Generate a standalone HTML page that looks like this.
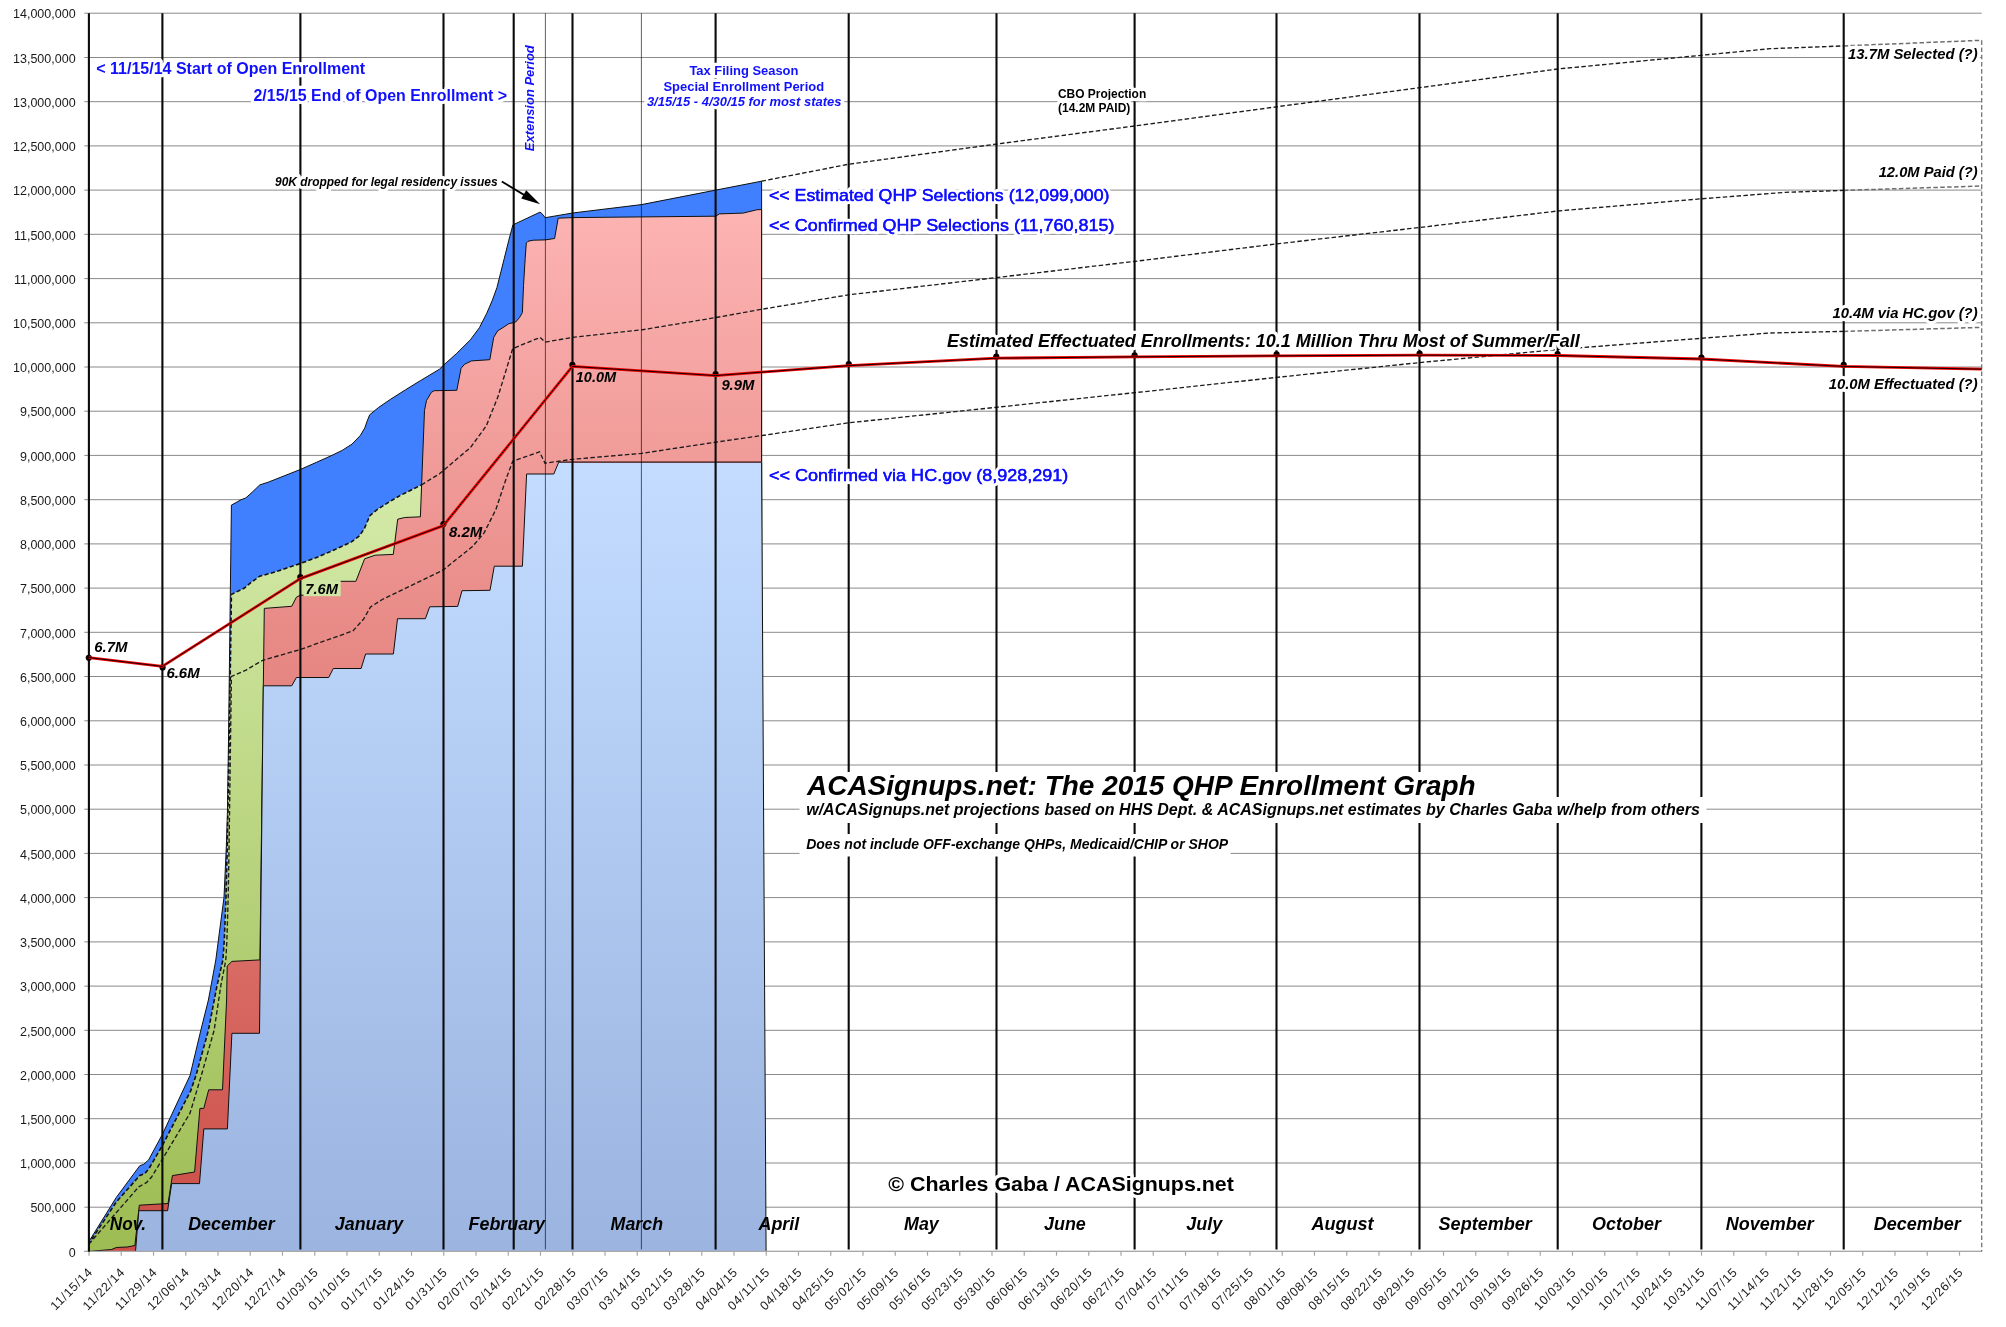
<!DOCTYPE html>
<html><head><meta charset="utf-8"><title>ACASignups.net: The 2015 QHP Enrollment Graph</title>
<style>
html,body{margin:0;padding:0;background:#fff;}
body{width:2006px;height:1327px;overflow:hidden;font-family:"Liberation Sans",sans-serif;}
svg{display:block;font-family:"Liberation Sans",sans-serif;}
.bi{font-weight:bold;font-style:italic;}
.b{font-weight:bold;}
.ax{font-size:12.5px;fill:#1a1a1a;}
.blue{fill:#1010ff;}
.halo{paint-order:stroke;stroke:#fff;stroke-width:6.4px;stroke-linejoin:round;}
</style></head><body>
<svg width="2006" height="1327" viewBox="0 0 2006 1327">
<defs>
<linearGradient id="gHC" x1="0" y1="0" x2="0" y2="1"><stop offset="0" stop-color="#c3dcff"/><stop offset="1" stop-color="#9bb4e0"/></linearGradient>
<linearGradient id="gPK" x1="0" y1="0" x2="0" y2="1"><stop offset="0" stop-color="#fcb4b3"/><stop offset="1" stop-color="#cb4e46"/></linearGradient>
<linearGradient id="gGR" x1="0" y1="0" x2="0" y2="1"><stop offset="0" stop-color="#d3eaa8"/><stop offset="1" stop-color="#9dbc52"/></linearGradient>
</defs>
<rect x="0" y="0" width="2006" height="1327" fill="#ffffff"/>
<g stroke="#8a8a8a" stroke-width="1" fill="none">
<line x1="84.3" y1="1251.4" x2="1981.7" y2="1251.4"/>
<line x1="84.3" y1="1207.2" x2="1981.7" y2="1207.2"/>
<line x1="84.3" y1="1163.0" x2="1981.7" y2="1163.0"/>
<line x1="84.3" y1="1118.7" x2="1981.7" y2="1118.7"/>
<line x1="84.3" y1="1074.5" x2="1981.7" y2="1074.5"/>
<line x1="84.3" y1="1030.3" x2="1981.7" y2="1030.3"/>
<line x1="84.3" y1="986.1" x2="1981.7" y2="986.1"/>
<line x1="84.3" y1="941.9" x2="1981.7" y2="941.9"/>
<line x1="84.3" y1="897.6" x2="1981.7" y2="897.6"/>
<line x1="84.3" y1="853.4" x2="1981.7" y2="853.4"/>
<line x1="84.3" y1="809.2" x2="1981.7" y2="809.2"/>
<line x1="84.3" y1="765.0" x2="1981.7" y2="765.0"/>
<line x1="84.3" y1="720.8" x2="1981.7" y2="720.8"/>
<line x1="84.3" y1="676.5" x2="1981.7" y2="676.5"/>
<line x1="84.3" y1="632.3" x2="1981.7" y2="632.3"/>
<line x1="84.3" y1="588.1" x2="1981.7" y2="588.1"/>
<line x1="84.3" y1="543.9" x2="1981.7" y2="543.9"/>
<line x1="84.3" y1="499.7" x2="1981.7" y2="499.7"/>
<line x1="84.3" y1="455.4" x2="1981.7" y2="455.4"/>
<line x1="84.3" y1="411.2" x2="1981.7" y2="411.2"/>
<line x1="84.3" y1="367.0" x2="1981.7" y2="367.0"/>
<line x1="84.3" y1="322.8" x2="1981.7" y2="322.8"/>
<line x1="84.3" y1="278.6" x2="1981.7" y2="278.6"/>
<line x1="84.3" y1="234.3" x2="1981.7" y2="234.3"/>
<line x1="84.3" y1="190.1" x2="1981.7" y2="190.1"/>
<line x1="84.3" y1="145.9" x2="1981.7" y2="145.9"/>
<line x1="84.3" y1="101.7" x2="1981.7" y2="101.7"/>
<line x1="84.3" y1="57.5" x2="1981.7" y2="57.5"/>
<line x1="84.3" y1="13.2" x2="1981.7" y2="13.2"/>
</g>
<g stroke="#a6a6a6" stroke-width="1.2">
<line x1="89.00" y1="1251.4" x2="89.00" y2="1255.7"/>
<line x1="121.25" y1="1251.4" x2="121.25" y2="1255.7"/>
<line x1="153.50" y1="1251.4" x2="153.50" y2="1255.7"/>
<line x1="185.75" y1="1251.4" x2="185.75" y2="1255.7"/>
<line x1="218.00" y1="1251.4" x2="218.00" y2="1255.7"/>
<line x1="250.25" y1="1251.4" x2="250.25" y2="1255.7"/>
<line x1="282.50" y1="1251.4" x2="282.50" y2="1255.7"/>
<line x1="314.75" y1="1251.4" x2="314.75" y2="1255.7"/>
<line x1="347.00" y1="1251.4" x2="347.00" y2="1255.7"/>
<line x1="379.25" y1="1251.4" x2="379.25" y2="1255.7"/>
<line x1="411.50" y1="1251.4" x2="411.50" y2="1255.7"/>
<line x1="443.75" y1="1251.4" x2="443.75" y2="1255.7"/>
<line x1="476.00" y1="1251.4" x2="476.00" y2="1255.7"/>
<line x1="508.25" y1="1251.4" x2="508.25" y2="1255.7"/>
<line x1="540.50" y1="1251.4" x2="540.50" y2="1255.7"/>
<line x1="572.75" y1="1251.4" x2="572.75" y2="1255.7"/>
<line x1="605.00" y1="1251.4" x2="605.00" y2="1255.7"/>
<line x1="637.25" y1="1251.4" x2="637.25" y2="1255.7"/>
<line x1="669.50" y1="1251.4" x2="669.50" y2="1255.7"/>
<line x1="701.75" y1="1251.4" x2="701.75" y2="1255.7"/>
<line x1="734.00" y1="1251.4" x2="734.00" y2="1255.7"/>
<line x1="766.25" y1="1251.4" x2="766.25" y2="1255.7"/>
<line x1="798.50" y1="1251.4" x2="798.50" y2="1255.7"/>
<line x1="830.75" y1="1251.4" x2="830.75" y2="1255.7"/>
<line x1="863.00" y1="1251.4" x2="863.00" y2="1255.7"/>
<line x1="895.25" y1="1251.4" x2="895.25" y2="1255.7"/>
<line x1="927.50" y1="1251.4" x2="927.50" y2="1255.7"/>
<line x1="959.75" y1="1251.4" x2="959.75" y2="1255.7"/>
<line x1="992.00" y1="1251.4" x2="992.00" y2="1255.7"/>
<line x1="1024.25" y1="1251.4" x2="1024.25" y2="1255.7"/>
<line x1="1056.50" y1="1251.4" x2="1056.50" y2="1255.7"/>
<line x1="1088.75" y1="1251.4" x2="1088.75" y2="1255.7"/>
<line x1="1121.00" y1="1251.4" x2="1121.00" y2="1255.7"/>
<line x1="1153.25" y1="1251.4" x2="1153.25" y2="1255.7"/>
<line x1="1185.50" y1="1251.4" x2="1185.50" y2="1255.7"/>
<line x1="1217.75" y1="1251.4" x2="1217.75" y2="1255.7"/>
<line x1="1250.00" y1="1251.4" x2="1250.00" y2="1255.7"/>
<line x1="1282.25" y1="1251.4" x2="1282.25" y2="1255.7"/>
<line x1="1314.50" y1="1251.4" x2="1314.50" y2="1255.7"/>
<line x1="1346.75" y1="1251.4" x2="1346.75" y2="1255.7"/>
<line x1="1379.00" y1="1251.4" x2="1379.00" y2="1255.7"/>
<line x1="1411.25" y1="1251.4" x2="1411.25" y2="1255.7"/>
<line x1="1443.50" y1="1251.4" x2="1443.50" y2="1255.7"/>
<line x1="1475.75" y1="1251.4" x2="1475.75" y2="1255.7"/>
<line x1="1508.00" y1="1251.4" x2="1508.00" y2="1255.7"/>
<line x1="1540.25" y1="1251.4" x2="1540.25" y2="1255.7"/>
<line x1="1572.50" y1="1251.4" x2="1572.50" y2="1255.7"/>
<line x1="1604.75" y1="1251.4" x2="1604.75" y2="1255.7"/>
<line x1="1637.00" y1="1251.4" x2="1637.00" y2="1255.7"/>
<line x1="1669.25" y1="1251.4" x2="1669.25" y2="1255.7"/>
<line x1="1701.50" y1="1251.4" x2="1701.50" y2="1255.7"/>
<line x1="1733.75" y1="1251.4" x2="1733.75" y2="1255.7"/>
<line x1="1766.00" y1="1251.4" x2="1766.00" y2="1255.7"/>
<line x1="1798.25" y1="1251.4" x2="1798.25" y2="1255.7"/>
<line x1="1830.50" y1="1251.4" x2="1830.50" y2="1255.7"/>
<line x1="1862.75" y1="1251.4" x2="1862.75" y2="1255.7"/>
<line x1="1895.00" y1="1251.4" x2="1895.00" y2="1255.7"/>
<line x1="1927.25" y1="1251.4" x2="1927.25" y2="1255.7"/>
<line x1="1959.50" y1="1251.4" x2="1959.50" y2="1255.7"/>
</g>
<polygon points="88.8,1251.4 88.8,1241.7 116.3,1197.4 139.8,1165.7 143.7,1164.3 148.6,1159.9 162.5,1134.2 190.0,1075.5 200.8,1030.4 208.4,1000.0 215.8,960.0 218.4,940.0 224.0,897.4 226.4,845.0 227.5,809.2 228.5,740.0 231.4,505.1 236.9,502.1 241.1,499.7 245.9,497.9 252.6,491.8 259.8,484.9 268.2,482.2 300.3,469.5 316.5,462.3 330.2,456.2 342.2,450.4 352.0,444.1 360.3,435.5 364.8,427.9 367.1,421.2 369.7,414.8 378.4,407.6 390.5,399.3 405.5,389.8 420.6,380.5 439.5,369.2 444.0,364.8 456.8,353.3 470.4,339.8 479.4,327.7 486.8,313.2 492.4,300.1 496.9,287.7 500.9,271.8 504.3,258.3 508.8,240.2 512.9,224.9 539.9,212.2 541.6,213.2 545.2,217.7 572.6,213.0 641.5,204.6 715.8,190.1 761.6,181.2 761.6,1251.4" fill="#4080ff" stroke="none"/>
<polyline points="88.8,1251.4 88.8,1241.7 116.3,1197.4 139.8,1165.7 143.7,1164.3 148.6,1159.9 162.5,1134.2 190.0,1075.5 200.8,1030.4 208.4,1000.0 215.8,960.0 218.4,940.0 224.0,897.4 226.4,845.0 227.5,809.2 228.5,740.0 231.4,505.1 236.9,502.1 241.1,499.7 245.9,497.9 252.6,491.8 259.8,484.9 268.2,482.2 300.3,469.5 316.5,462.3 330.2,456.2 342.2,450.4 352.0,444.1 360.3,435.5 364.8,427.9 367.1,421.2 369.7,414.8 378.4,407.6 390.5,399.3 405.5,389.8 420.6,380.5 439.5,369.2 444.0,364.8 456.8,353.3 470.4,339.8 479.4,327.7 486.8,313.2 492.4,300.1 496.9,287.7 500.9,271.8 504.3,258.3 508.8,240.2 512.9,224.9 539.9,212.2 541.6,213.2 545.2,217.7 572.6,213.0 641.5,204.6 715.8,190.1 761.6,181.2 761.6,1251.4" fill="none" stroke="#101010" stroke-width="1" stroke-linejoin="round"/>
<polygon points="88.8,1251.4 88.8,1243.6 116.3,1202.0 139.8,1175.5 144.7,1173.6 148.6,1169.2 162.5,1145.3 190.8,1090.6 196.0,1075.5 208.4,1030.4 217.1,985.2 222.9,960.0 224.3,940.0 226.0,897.4 227.3,845.0 229.2,740.0 230.2,677.0 231.4,594.4 244.1,588.3 251.3,582.3 259.8,576.2 273.1,572.6 300.3,563.5 316.5,557.6 334.5,549.7 351.4,541.9 358.7,536.5 364.1,529.2 367.7,520.8 370.1,515.4 376.7,509.9 388.8,502.1 400.0,495.6 421.4,484.9 421.4,1251.4" fill="url(#gGR)" stroke="none"/>
<polygon points="88.8,1251.4 111.4,1249.5 116.3,1247.5 127.1,1247.0 134.9,1245.5 139.3,1205.2 168.0,1203.5 172.4,1175.6 194.6,1172.0 199.9,1108.4 203.8,1108.4 208.7,1089.8 222.5,1089.8 226.6,1000.0 227.2,966.0 231.9,961.4 259.9,959.9 264.3,608.4 291.7,606.3 296.4,597.2 300.3,595.2 327.5,595.0 332.3,581.3 355.9,581.3 364.6,558.8 375.1,555.2 393.3,554.4 397.7,519.2 404.7,517.5 420.4,516.8 421.6,484.8 424.5,410.3 426.5,400.5 431.4,392.3 434.3,390.7 456.8,390.3 461.1,368.2 464.7,364.2 471.5,360.9 489.8,359.7 493.7,337.4 497.6,330.9 503.9,327.0 508.8,323.7 515.6,322.1 519.5,317.6 522.4,312.5 523.5,285.4 525.2,258.3 526.3,243.0 528.0,241.3 533.1,240.2 545.2,239.9 554.6,238.5 558.2,218.2 572.6,217.6 715.8,216.2 719.3,213.9 743.2,213.1 756.7,209.8 761.6,209.5 761.6,1251.4" fill="url(#gPK)" stroke="none"/>
<polyline points="88.8,1251.4 111.4,1249.5 116.3,1247.5 127.1,1247.0 134.9,1245.5 139.3,1205.2 168.0,1203.5 172.4,1175.6 194.6,1172.0 199.9,1108.4 203.8,1108.4 208.7,1089.8 222.5,1089.8 226.6,1000.0 227.2,966.0 231.9,961.4 259.9,959.9 264.3,608.4 291.7,606.3 296.4,597.2 300.3,595.2 327.5,595.0 332.3,581.3 355.9,581.3 364.6,558.8 375.1,555.2 393.3,554.4 397.7,519.2 404.7,517.5 420.4,516.8 421.6,484.8 424.5,410.3 426.5,400.5 431.4,392.3 434.3,390.7 456.8,390.3 461.1,368.2 464.7,364.2 471.5,360.9 489.8,359.7 493.7,337.4 497.6,330.9 503.9,327.0 508.8,323.7 515.6,322.1 519.5,317.6 522.4,312.5 523.5,285.4 525.2,258.3 526.3,243.0 528.0,241.3 533.1,240.2 545.2,239.9 554.6,238.5 558.2,218.2 572.6,217.6 715.8,216.2 719.3,213.9 743.2,213.1 756.7,209.8 761.6,209.5 761.6,1251.4" fill="none" stroke="#101010" stroke-width="1" stroke-linejoin="round"/>
<polygon points="135.5,1251.4 138.8,1210.7 167.6,1210.7 171.7,1183.6 199.5,1183.6 203.8,1128.9 227.4,1128.9 231.9,1033.3 259.5,1033.3 263.3,685.8 291.7,685.8 296.4,677.5 328.7,677.5 333.3,668.5 361.1,668.5 365.6,654.0 393.4,654.0 397.5,618.7 425.4,618.7 429.7,606.8 457.7,606.4 462.0,590.7 490.0,590.3 494.3,566.2 522.4,566.2 526.6,474.0 553.8,474.0 558.7,462.2 761.6,462.2 766.1,1251.4" fill="url(#gHC)" stroke="none"/>
<polyline points="135.5,1251.4 138.8,1210.7 167.6,1210.7 171.7,1183.6 199.5,1183.6 203.8,1128.9 227.4,1128.9 231.9,1033.3 259.5,1033.3 263.3,685.8 291.7,685.8 296.4,677.5 328.7,677.5 333.3,668.5 361.1,668.5 365.6,654.0 393.4,654.0 397.5,618.7 425.4,618.7 429.7,606.8 457.7,606.4 462.0,590.7 490.0,590.3 494.3,566.2 522.4,566.2 526.6,474.0 553.8,474.0 558.7,462.2 761.6,462.2 766.1,1251.4" fill="none" stroke="#101010" stroke-width="1" stroke-linejoin="round"/>
<polyline points="558.7,462.2 761.6,462.2" fill="none" stroke="#6a3a3a" stroke-width="1.2"/>
<line x1="84.3" y1="1251.4" x2="1981.7" y2="1251.4" stroke="#a8a8a8" stroke-width="1.1"/>
<polyline points="88.8,1251.4 88.8,1243.6 116.3,1202.0 139.8,1175.5 144.7,1173.6 148.6,1169.2 162.5,1145.3 190.8,1090.6 196.0,1075.5 208.4,1030.4 217.1,985.2 222.9,960.0 224.3,940.0 226.0,897.4 227.3,845.0 229.2,740.0 230.2,677.0 231.4,594.4 244.1,588.3 251.3,582.3 259.8,576.2 273.1,572.6 300.3,563.5 316.5,557.6 334.5,549.7 351.4,541.9 358.7,536.5 364.1,529.2 367.7,520.8 370.1,515.4 376.7,509.9 388.8,502.1 400.0,495.6 421.4,484.9" fill="none" stroke="#101010" stroke-width="1.6" stroke-dasharray="4.2 2.4"/>
<polyline points="421.4,484.9 439.2,474.0 470.5,447.5 486.2,426.0 498.0,396.6 505.8,371.1 512.7,348.6 540.1,337.4 545.0,342.1 572.4,337.4 641.4,329.9 715.5,317.6 761.4,309.3 848.8,294.8 996.3,277.6 1134.6,261.4 1276.6,243.9 1419.6,227.5 1557.6,211.0 1701.4,198.8 1785.7,192.3 1843.7,190.4" fill="none" stroke="#1c1c1c" stroke-width="1.35" stroke-dasharray="4.5 2.4"/>
<polyline points="1843.7,190.4 1981.7,186.0" fill="none" stroke="#6e6e6e" stroke-width="1.5" stroke-dasharray="4.5 2.4"/>
<polyline points="88.8,1244.2 138.8,1186.8 146.7,1182.4 151.6,1177.0 162.5,1159.0 190.0,1113.2 201.3,1075.5 214.1,1030.4 220.9,985.2 225.8,960.0 226.9,940.0 228.2,897.0 229.0,850.0 231.4,676.4 246.0,670.1 262.7,660.3 300.3,649.5 352.9,630.9 363.6,619.1 370.5,607.0 382.2,599.5 443.0,570.1 472.4,546.6 484.1,532.9 495.9,509.4 505.7,480.0 512.7,461.2 539.5,451.8 545.0,463.2 572.4,459.3 641.4,453.4 715.5,442.2 761.5,435.6 848.8,422.8 996.3,407.3 1134.6,392.7 1276.6,377.4 1419.6,362.6 1557.6,349.5 1701.4,338.3 1770.0,333.0 1843.7,331.4" fill="none" stroke="#1c1c1c" stroke-width="1.35" stroke-dasharray="4.5 2.4"/>
<polyline points="1843.7,331.4 1981.7,327.4" fill="none" stroke="#6e6e6e" stroke-width="1.5" stroke-dasharray="4.5 2.4"/>
<polyline points="761.5,181.2 848.8,164.2 996.3,144.1 1134.6,126.0 1276.6,106.8 1419.6,87.7 1557.6,69.0 1701.4,55.3 1770.0,48.7 1843.7,45.9" fill="none" stroke="#1c1c1c" stroke-width="1.35" stroke-dasharray="4.5 2.4"/>
<polyline points="1843.7,45.9 1981.7,40.3" fill="none" stroke="#6e6e6e" stroke-width="1.5" stroke-dasharray="4.5 2.4"/>
<line x1="1981.7" y1="40.3" x2="1981.7" y2="1251.4" stroke="#747474" stroke-width="1.3" stroke-dasharray="4.6 2.6"/>
<g stroke="#0a0a0a" stroke-width="2.1">
<line x1="88.9" y1="13.2" x2="88.9" y2="1251.4"/>
<line x1="162.4" y1="13.2" x2="162.4" y2="1249.4"/>
<line x1="300.4" y1="13.2" x2="300.4" y2="1249.4"/>
<line x1="443.5" y1="13.2" x2="443.5" y2="1249.4"/>
<line x1="513.7" y1="13.2" x2="513.7" y2="1249.4"/>
<line x1="572.5" y1="13.2" x2="572.5" y2="1249.4"/>
<line x1="715.6" y1="13.2" x2="715.6" y2="1249.4"/>
<line x1="848.7" y1="13.2" x2="848.7" y2="1249.4"/>
<line x1="996.5" y1="13.2" x2="996.5" y2="1249.4"/>
<line x1="1134.6" y1="13.2" x2="1134.6" y2="1249.4"/>
<line x1="1276.5" y1="13.2" x2="1276.5" y2="1249.4"/>
<line x1="1419.5" y1="13.2" x2="1419.5" y2="1249.4"/>
<line x1="1557.7" y1="13.2" x2="1557.7" y2="1249.4"/>
<line x1="1701.4" y1="13.2" x2="1701.4" y2="1249.4"/>
<line x1="1843.7" y1="13.2" x2="1843.7" y2="1249.4"/>
</g>
<g stroke="#000" stroke-opacity="0.62" stroke-width="1">
<line x1="545.4" y1="13.2" x2="545.4" y2="1249.4"/>
<line x1="641.4" y1="13.2" x2="641.4" y2="1249.4"/>
</g>
<g fill="#0a0000">
<circle cx="88.8" cy="657.8" r="3.1"/>
<circle cx="162.6" cy="667.4" r="3.1"/>
<circle cx="300.3" cy="577.1" r="3.1"/>
<circle cx="443.4" cy="524.1" r="3.1"/>
<circle cx="572.4" cy="364.9" r="3.1"/>
<circle cx="715.6" cy="374.1" r="3.1"/>
<circle cx="848.8" cy="364.1" r="3.1"/>
<circle cx="996.3" cy="356.7" r="3.1"/>
<circle cx="1134.6" cy="355.3" r="3.1"/>
<circle cx="1276.6" cy="354.3" r="3.1"/>
<circle cx="1419.6" cy="353.7" r="3.1"/>
<circle cx="1557.6" cy="354.0" r="3.1"/>
<circle cx="1701.4" cy="357.5" r="3.1"/>
<circle cx="1843.7" cy="364.9" r="3.1"/>
</g>
<polyline points="88.8,657.6 162.3,666.4 300.3,578.6 443.4,525.6 572.4,366.4 715.6,375.6 848.8,365.6 996.3,358.2 1134.6,356.8 1276.6,355.8 1419.6,355.2 1557.6,355.5 1701.4,359.0 1843.7,366.4 1981.7,369.2" fill="none" stroke="#f20000" stroke-width="2.8" stroke-linejoin="round"/>
<polyline points="88.8,657.6 162.3,666.4 300.3,578.6 443.4,525.6 572.4,366.4 715.6,375.6 848.8,365.6 996.3,358.2 1134.6,356.8 1276.6,355.8 1419.6,355.2 1557.6,355.5 1701.4,359.0 1843.7,366.4 1981.7,369.2" fill="none" stroke="#140000" stroke-width="1.0" stroke-linejoin="round"/>
<g fill="#ffffff">
<rect x="799.5" y="772" width="682" height="26"/>
<rect x="799.5" y="797" width="907" height="26"/>
<rect x="799.5" y="834" width="431" height="22.5"/>
</g>
<g opacity="0.999">
<text x="75.6" y="1256.6" font-size="12.8px" class="ax" text-anchor="end" >0</text>
<text x="75.6" y="1212.4" font-size="12.8px" class="ax" text-anchor="end" >500,000</text>
<text x="75.6" y="1168.2" font-size="12.8px" class="ax" text-anchor="end" >1,000,000</text>
<text x="75.6" y="1123.9" font-size="12.8px" class="ax" text-anchor="end" >1,500,000</text>
<text x="75.6" y="1079.7" font-size="12.8px" class="ax" text-anchor="end" >2,000,000</text>
<text x="75.6" y="1035.5" font-size="12.8px" class="ax" text-anchor="end" >2,500,000</text>
<text x="75.6" y="991.3" font-size="12.8px" class="ax" text-anchor="end" >3,000,000</text>
<text x="75.6" y="947.1" font-size="12.8px" class="ax" text-anchor="end" >3,500,000</text>
<text x="75.6" y="902.8" font-size="12.8px" class="ax" text-anchor="end" >4,000,000</text>
<text x="75.6" y="858.6" font-size="12.8px" class="ax" text-anchor="end" >4,500,000</text>
<text x="75.6" y="814.4" font-size="12.8px" class="ax" text-anchor="end" >5,000,000</text>
<text x="75.6" y="770.2" font-size="12.8px" class="ax" text-anchor="end" >5,500,000</text>
<text x="75.6" y="726.0" font-size="12.8px" class="ax" text-anchor="end" >6,000,000</text>
<text x="75.6" y="681.7" font-size="12.8px" class="ax" text-anchor="end" >6,500,000</text>
<text x="75.6" y="637.5" font-size="12.8px" class="ax" text-anchor="end" >7,000,000</text>
<text x="75.6" y="593.3" font-size="12.8px" class="ax" text-anchor="end" >7,500,000</text>
<text x="75.6" y="549.1" font-size="12.8px" class="ax" text-anchor="end" >8,000,000</text>
<text x="75.6" y="504.9" font-size="12.8px" class="ax" text-anchor="end" >8,500,000</text>
<text x="75.6" y="460.6" font-size="12.8px" class="ax" text-anchor="end" >9,000,000</text>
<text x="75.6" y="416.4" font-size="12.8px" class="ax" text-anchor="end" >9,500,000</text>
<text x="75.6" y="372.2" font-size="12.8px" class="ax" text-anchor="end" >10,000,000</text>
<text x="75.6" y="328.0" font-size="12.8px" class="ax" text-anchor="end" >10,500,000</text>
<text x="75.6" y="283.8" font-size="12.8px" class="ax" text-anchor="end" >11,000,000</text>
<text x="75.6" y="239.5" font-size="12.8px" class="ax" text-anchor="end" >11,500,000</text>
<text x="75.6" y="195.3" font-size="12.8px" class="ax" text-anchor="end" >12,000,000</text>
<text x="75.6" y="151.1" font-size="12.8px" class="ax" text-anchor="end" >12,500,000</text>
<text x="75.6" y="106.9" font-size="12.8px" class="ax" text-anchor="end" >13,000,000</text>
<text x="75.6" y="62.7" font-size="12.8px" class="ax" text-anchor="end" >13,500,000</text>
<text x="75.6" y="18.4" font-size="12.8px" class="ax" text-anchor="end" >14,000,000</text>
<text transform="translate(92.90,1273.4) rotate(-45)" x="0" y="0" font-size="12.5px" class="ax" text-anchor="end" textLength="53" lengthAdjust="spacing">11/15/14</text>
<text transform="translate(125.15,1273.4) rotate(-45)" x="0" y="0" font-size="12.5px" class="ax" text-anchor="end" textLength="53" lengthAdjust="spacing">11/22/14</text>
<text transform="translate(157.40,1273.4) rotate(-45)" x="0" y="0" font-size="12.5px" class="ax" text-anchor="end" textLength="53" lengthAdjust="spacing">11/29/14</text>
<text transform="translate(189.65,1273.4) rotate(-45)" x="0" y="0" font-size="12.5px" class="ax" text-anchor="end" textLength="53" lengthAdjust="spacing">12/06/14</text>
<text transform="translate(221.90,1273.4) rotate(-45)" x="0" y="0" font-size="12.5px" class="ax" text-anchor="end" textLength="53" lengthAdjust="spacing">12/13/14</text>
<text transform="translate(254.15,1273.4) rotate(-45)" x="0" y="0" font-size="12.5px" class="ax" text-anchor="end" textLength="53" lengthAdjust="spacing">12/20/14</text>
<text transform="translate(286.40,1273.4) rotate(-45)" x="0" y="0" font-size="12.5px" class="ax" text-anchor="end" textLength="53" lengthAdjust="spacing">12/27/14</text>
<text transform="translate(318.65,1273.4) rotate(-45)" x="0" y="0" font-size="12.5px" class="ax" text-anchor="end" textLength="53" lengthAdjust="spacing">01/03/15</text>
<text transform="translate(350.90,1273.4) rotate(-45)" x="0" y="0" font-size="12.5px" class="ax" text-anchor="end" textLength="53" lengthAdjust="spacing">01/10/15</text>
<text transform="translate(383.15,1273.4) rotate(-45)" x="0" y="0" font-size="12.5px" class="ax" text-anchor="end" textLength="53" lengthAdjust="spacing">01/17/15</text>
<text transform="translate(415.40,1273.4) rotate(-45)" x="0" y="0" font-size="12.5px" class="ax" text-anchor="end" textLength="53" lengthAdjust="spacing">01/24/15</text>
<text transform="translate(447.65,1273.4) rotate(-45)" x="0" y="0" font-size="12.5px" class="ax" text-anchor="end" textLength="53" lengthAdjust="spacing">01/31/15</text>
<text transform="translate(479.90,1273.4) rotate(-45)" x="0" y="0" font-size="12.5px" class="ax" text-anchor="end" textLength="53" lengthAdjust="spacing">02/07/15</text>
<text transform="translate(512.15,1273.4) rotate(-45)" x="0" y="0" font-size="12.5px" class="ax" text-anchor="end" textLength="53" lengthAdjust="spacing">02/14/15</text>
<text transform="translate(544.40,1273.4) rotate(-45)" x="0" y="0" font-size="12.5px" class="ax" text-anchor="end" textLength="53" lengthAdjust="spacing">02/21/15</text>
<text transform="translate(576.65,1273.4) rotate(-45)" x="0" y="0" font-size="12.5px" class="ax" text-anchor="end" textLength="53" lengthAdjust="spacing">02/28/15</text>
<text transform="translate(608.90,1273.4) rotate(-45)" x="0" y="0" font-size="12.5px" class="ax" text-anchor="end" textLength="53" lengthAdjust="spacing">03/07/15</text>
<text transform="translate(641.15,1273.4) rotate(-45)" x="0" y="0" font-size="12.5px" class="ax" text-anchor="end" textLength="53" lengthAdjust="spacing">03/14/15</text>
<text transform="translate(673.40,1273.4) rotate(-45)" x="0" y="0" font-size="12.5px" class="ax" text-anchor="end" textLength="53" lengthAdjust="spacing">03/21/15</text>
<text transform="translate(705.65,1273.4) rotate(-45)" x="0" y="0" font-size="12.5px" class="ax" text-anchor="end" textLength="53" lengthAdjust="spacing">03/28/15</text>
<text transform="translate(737.90,1273.4) rotate(-45)" x="0" y="0" font-size="12.5px" class="ax" text-anchor="end" textLength="53" lengthAdjust="spacing">04/04/15</text>
<text transform="translate(770.15,1273.4) rotate(-45)" x="0" y="0" font-size="12.5px" class="ax" text-anchor="end" textLength="53" lengthAdjust="spacing">04/11/15</text>
<text transform="translate(802.40,1273.4) rotate(-45)" x="0" y="0" font-size="12.5px" class="ax" text-anchor="end" textLength="53" lengthAdjust="spacing">04/18/15</text>
<text transform="translate(834.65,1273.4) rotate(-45)" x="0" y="0" font-size="12.5px" class="ax" text-anchor="end" textLength="53" lengthAdjust="spacing">04/25/15</text>
<text transform="translate(866.90,1273.4) rotate(-45)" x="0" y="0" font-size="12.5px" class="ax" text-anchor="end" textLength="53" lengthAdjust="spacing">05/02/15</text>
<text transform="translate(899.15,1273.4) rotate(-45)" x="0" y="0" font-size="12.5px" class="ax" text-anchor="end" textLength="53" lengthAdjust="spacing">05/09/15</text>
<text transform="translate(931.40,1273.4) rotate(-45)" x="0" y="0" font-size="12.5px" class="ax" text-anchor="end" textLength="53" lengthAdjust="spacing">05/16/15</text>
<text transform="translate(963.65,1273.4) rotate(-45)" x="0" y="0" font-size="12.5px" class="ax" text-anchor="end" textLength="53" lengthAdjust="spacing">05/23/15</text>
<text transform="translate(995.90,1273.4) rotate(-45)" x="0" y="0" font-size="12.5px" class="ax" text-anchor="end" textLength="53" lengthAdjust="spacing">05/30/15</text>
<text transform="translate(1028.15,1273.4) rotate(-45)" x="0" y="0" font-size="12.5px" class="ax" text-anchor="end" textLength="53" lengthAdjust="spacing">06/06/15</text>
<text transform="translate(1060.40,1273.4) rotate(-45)" x="0" y="0" font-size="12.5px" class="ax" text-anchor="end" textLength="53" lengthAdjust="spacing">06/13/15</text>
<text transform="translate(1092.65,1273.4) rotate(-45)" x="0" y="0" font-size="12.5px" class="ax" text-anchor="end" textLength="53" lengthAdjust="spacing">06/20/15</text>
<text transform="translate(1124.90,1273.4) rotate(-45)" x="0" y="0" font-size="12.5px" class="ax" text-anchor="end" textLength="53" lengthAdjust="spacing">06/27/15</text>
<text transform="translate(1157.15,1273.4) rotate(-45)" x="0" y="0" font-size="12.5px" class="ax" text-anchor="end" textLength="53" lengthAdjust="spacing">07/04/15</text>
<text transform="translate(1189.40,1273.4) rotate(-45)" x="0" y="0" font-size="12.5px" class="ax" text-anchor="end" textLength="53" lengthAdjust="spacing">07/11/15</text>
<text transform="translate(1221.65,1273.4) rotate(-45)" x="0" y="0" font-size="12.5px" class="ax" text-anchor="end" textLength="53" lengthAdjust="spacing">07/18/15</text>
<text transform="translate(1253.90,1273.4) rotate(-45)" x="0" y="0" font-size="12.5px" class="ax" text-anchor="end" textLength="53" lengthAdjust="spacing">07/25/15</text>
<text transform="translate(1286.15,1273.4) rotate(-45)" x="0" y="0" font-size="12.5px" class="ax" text-anchor="end" textLength="53" lengthAdjust="spacing">08/01/15</text>
<text transform="translate(1318.40,1273.4) rotate(-45)" x="0" y="0" font-size="12.5px" class="ax" text-anchor="end" textLength="53" lengthAdjust="spacing">08/08/15</text>
<text transform="translate(1350.65,1273.4) rotate(-45)" x="0" y="0" font-size="12.5px" class="ax" text-anchor="end" textLength="53" lengthAdjust="spacing">08/15/15</text>
<text transform="translate(1382.90,1273.4) rotate(-45)" x="0" y="0" font-size="12.5px" class="ax" text-anchor="end" textLength="53" lengthAdjust="spacing">08/22/15</text>
<text transform="translate(1415.15,1273.4) rotate(-45)" x="0" y="0" font-size="12.5px" class="ax" text-anchor="end" textLength="53" lengthAdjust="spacing">08/29/15</text>
<text transform="translate(1447.40,1273.4) rotate(-45)" x="0" y="0" font-size="12.5px" class="ax" text-anchor="end" textLength="53" lengthAdjust="spacing">09/05/15</text>
<text transform="translate(1479.65,1273.4) rotate(-45)" x="0" y="0" font-size="12.5px" class="ax" text-anchor="end" textLength="53" lengthAdjust="spacing">09/12/15</text>
<text transform="translate(1511.90,1273.4) rotate(-45)" x="0" y="0" font-size="12.5px" class="ax" text-anchor="end" textLength="53" lengthAdjust="spacing">09/19/15</text>
<text transform="translate(1544.15,1273.4) rotate(-45)" x="0" y="0" font-size="12.5px" class="ax" text-anchor="end" textLength="53" lengthAdjust="spacing">09/26/15</text>
<text transform="translate(1576.40,1273.4) rotate(-45)" x="0" y="0" font-size="12.5px" class="ax" text-anchor="end" textLength="53" lengthAdjust="spacing">10/03/15</text>
<text transform="translate(1608.65,1273.4) rotate(-45)" x="0" y="0" font-size="12.5px" class="ax" text-anchor="end" textLength="53" lengthAdjust="spacing">10/10/15</text>
<text transform="translate(1640.90,1273.4) rotate(-45)" x="0" y="0" font-size="12.5px" class="ax" text-anchor="end" textLength="53" lengthAdjust="spacing">10/17/15</text>
<text transform="translate(1673.15,1273.4) rotate(-45)" x="0" y="0" font-size="12.5px" class="ax" text-anchor="end" textLength="53" lengthAdjust="spacing">10/24/15</text>
<text transform="translate(1705.40,1273.4) rotate(-45)" x="0" y="0" font-size="12.5px" class="ax" text-anchor="end" textLength="53" lengthAdjust="spacing">10/31/15</text>
<text transform="translate(1737.65,1273.4) rotate(-45)" x="0" y="0" font-size="12.5px" class="ax" text-anchor="end" textLength="53" lengthAdjust="spacing">11/07/15</text>
<text transform="translate(1769.90,1273.4) rotate(-45)" x="0" y="0" font-size="12.5px" class="ax" text-anchor="end" textLength="53" lengthAdjust="spacing">11/14/15</text>
<text transform="translate(1802.15,1273.4) rotate(-45)" x="0" y="0" font-size="12.5px" class="ax" text-anchor="end" textLength="53" lengthAdjust="spacing">11/21/15</text>
<text transform="translate(1834.40,1273.4) rotate(-45)" x="0" y="0" font-size="12.5px" class="ax" text-anchor="end" textLength="53" lengthAdjust="spacing">11/28/15</text>
<text transform="translate(1866.65,1273.4) rotate(-45)" x="0" y="0" font-size="12.5px" class="ax" text-anchor="end" textLength="53" lengthAdjust="spacing">12/05/15</text>
<text transform="translate(1898.90,1273.4) rotate(-45)" x="0" y="0" font-size="12.5px" class="ax" text-anchor="end" textLength="53" lengthAdjust="spacing">12/12/15</text>
<text transform="translate(1931.15,1273.4) rotate(-45)" x="0" y="0" font-size="12.5px" class="ax" text-anchor="end" textLength="53" lengthAdjust="spacing">12/19/15</text>
<text transform="translate(1963.40,1273.4) rotate(-45)" x="0" y="0" font-size="12.5px" class="ax" text-anchor="end" textLength="53" lengthAdjust="spacing">12/26/15</text>
<text x="109.8" y="1229.8" font-size="18px" class="bi" textLength="36.2" lengthAdjust="spacingAndGlyphs" >Nov.</text>
<text x="188.2" y="1229.8" font-size="18px" class="bi" textLength="86.4" lengthAdjust="spacingAndGlyphs" >December</text>
<text x="334.8" y="1229.8" font-size="18px" class="bi" textLength="68.5" lengthAdjust="spacingAndGlyphs" >January</text>
<text x="468.6" y="1229.8" font-size="18px" class="bi" textLength="76.4" lengthAdjust="spacingAndGlyphs" >February</text>
<text x="610.6" y="1229.8" font-size="18px" class="bi" textLength="52.4" lengthAdjust="spacingAndGlyphs" >March</text>
<text x="758.5" y="1229.8" font-size="18px" class="bi" textLength="40.8" lengthAdjust="spacingAndGlyphs" >April</text>
<text x="904.1" y="1229.8" font-size="18px" class="bi" textLength="34.7" lengthAdjust="spacingAndGlyphs" >May</text>
<text x="1044.0" y="1229.8" font-size="18px" class="bi" textLength="41.8" lengthAdjust="spacingAndGlyphs" >June</text>
<text x="1186.2" y="1229.8" font-size="18px" class="bi" textLength="36.0" lengthAdjust="spacingAndGlyphs" >July</text>
<text x="1311.4" y="1229.8" font-size="18px" class="bi" textLength="62.2" lengthAdjust="spacingAndGlyphs" >August</text>
<text x="1438.6" y="1229.8" font-size="18px" class="bi" textLength="93.2" lengthAdjust="spacingAndGlyphs" >September</text>
<text x="1592.1" y="1229.8" font-size="18px" class="bi" textLength="68.8" lengthAdjust="spacingAndGlyphs" >October</text>
<text x="1725.8" y="1229.8" font-size="18px" class="bi" textLength="87.9" lengthAdjust="spacingAndGlyphs" >November</text>
<text x="1873.7" y="1229.8" font-size="18px" class="bi" textLength="87.2" lengthAdjust="spacingAndGlyphs" >December</text>
<rect x="303.5" y="580.2" width="37.2" height="16" fill="#cfe6a4"/>
<text x="94.2" y="652.1" font-size="14.8px" class="bi" textLength="33.2" lengthAdjust="spacingAndGlyphs" >6.7M</text>
<text x="166.4" y="678.0" font-size="14.8px" class="bi" textLength="33.2" lengthAdjust="spacingAndGlyphs" >6.6M</text>
<text x="305.3" y="593.5" font-size="14.8px" class="bi" textLength="32.6" lengthAdjust="spacingAndGlyphs" >7.6M</text>
<text x="449.0" y="536.7" font-size="14.8px" class="bi" textLength="33.2" lengthAdjust="spacingAndGlyphs" >8.2M</text>
<text x="575.8" y="381.9" font-size="14.8px" class="bi" textLength="40.3" lengthAdjust="spacingAndGlyphs" >10.0M</text>
<text x="721.4" y="389.7" font-size="14.8px" class="bi" textLength="32.9" lengthAdjust="spacingAndGlyphs" >9.9M</text>
<text x="96.3" y="73.8" font-size="16px" class="b blue halo" textLength="268.9" lengthAdjust="spacingAndGlyphs" >&lt; 11/15/14 Start of Open Enrollment</text>
<text x="253.5" y="101.1" font-size="16px" class="b blue halo" textLength="253.6" lengthAdjust="spacingAndGlyphs" >2/15/15 End of Open Enrollment &gt;</text>
<text transform="translate(534.0,151.2) rotate(-90)" x="0" y="0" font-size="13px" class="bi blue" textLength="106" lengthAdjust="spacingAndGlyphs">Extension Period</text>
<text x="689.4" y="75.3" font-size="13px" class="b blue halo" textLength="109.0" lengthAdjust="spacingAndGlyphs" >Tax Filing Season</text>
<text x="663.4" y="91.2" font-size="13px" class="b blue halo" textLength="160.7" lengthAdjust="spacingAndGlyphs" >Special Enrollment Period</text>
<text x="646.9" y="105.9" font-size="13px" class="bi blue halo" textLength="194.6" lengthAdjust="spacingAndGlyphs" >3/15/15 - 4/30/15 for most states</text>
<text x="1058.0" y="97.8" font-size="12px" class="b halo" textLength="88.2" lengthAdjust="spacingAndGlyphs" >CBO Projection</text>
<text x="1058.0" y="112.3" font-size="12px" class="b halo" textLength="72.3" lengthAdjust="spacingAndGlyphs" >(14.2M PAID)</text>
<text x="275.0" y="186.0" font-size="12px" class="bi halo" textLength="222.6" lengthAdjust="spacingAndGlyphs" >90K dropped for legal residency issues</text>
<line x1="501.8" y1="181.5" x2="526" y2="196" stroke="#000" stroke-width="1.9"/>
<polygon points="540.2,204.3 521.2,198.5 526.2,190.3" fill="#000"/>
<text x="768.9" y="200.5" font-size="16.6px" class="blue halo" textLength="340.6" lengthAdjust="spacingAndGlyphs" >&lt;&lt; Estimated QHP Selections (12,099,000)</text>
<text x="768.9" y="200.5" font-size="16.6px" class="blue" textLength="340.6" lengthAdjust="spacingAndGlyphs" stroke="#1010ff" stroke-width="0.4">&lt;&lt; Estimated QHP Selections (12,099,000)</text>
<text x="768.9" y="230.8" font-size="16.6px" class="blue halo" textLength="345.5" lengthAdjust="spacingAndGlyphs" >&lt;&lt; Confirmed QHP Selections (11,760,815)</text>
<text x="768.9" y="230.8" font-size="16.6px" class="blue" textLength="345.5" lengthAdjust="spacingAndGlyphs" stroke="#1010ff" stroke-width="0.4">&lt;&lt; Confirmed QHP Selections (11,760,815)</text>
<text x="768.9" y="481.0" font-size="16.6px" class="blue halo" textLength="299.5" lengthAdjust="spacingAndGlyphs" >&lt;&lt; Confirmed via HC.gov (8,928,291)</text>
<text x="768.9" y="481.0" font-size="16.6px" class="blue" textLength="299.5" lengthAdjust="spacingAndGlyphs" stroke="#1010ff" stroke-width="0.4">&lt;&lt; Confirmed via HC.gov (8,928,291)</text>
<text x="947.0" y="347.2" font-size="18px" class="bi halo" textLength="632.7" lengthAdjust="spacingAndGlyphs" >Estimated Effectuated Enrollments: 10.1 Million Thru Most of Summer/Fall</text>
<text x="1848.1" y="58.8" font-size="14.8px" class="bi halo" textLength="129.5" lengthAdjust="spacingAndGlyphs" >13.7M Selected (?)</text>
<text x="1878.7" y="176.8" font-size="14.8px" class="bi halo" textLength="98.9" lengthAdjust="spacingAndGlyphs" >12.0M Paid (?)</text>
<text x="1832.5" y="318.3" font-size="14.8px" class="bi halo" textLength="145.1" lengthAdjust="spacingAndGlyphs" >10.4M via HC.gov (?)</text>
<text x="1828.7" y="389.2" font-size="14.8px" class="bi halo" textLength="148.9" lengthAdjust="spacingAndGlyphs" >10.0M Effectuated (?)</text>
<text x="807.0" y="794.9" font-size="28px" class="bi" textLength="668.6" lengthAdjust="spacingAndGlyphs" >ACASignups.net: The 2015 QHP Enrollment Graph</text>
<text x="806.2" y="814.8" font-size="16px" class="bi" textLength="893.7" lengthAdjust="spacingAndGlyphs" >w/ACASignups.net projections based on HHS Dept. &amp; ACASignups.net estimates by Charles Gaba w/help from others</text>
<text x="806.2" y="849.0" font-size="14px" class="bi" textLength="422.0" lengthAdjust="spacingAndGlyphs" >Does not include OFF-exchange QHPs, Medicaid/CHIP or SHOP</text>
<text x="888.3" y="1190.9" font-size="19.5px" class="b halo" textLength="345.6" lengthAdjust="spacingAndGlyphs" >© Charles Gaba / ACASignups.net</text>
</g>
</svg>
</body></html>
